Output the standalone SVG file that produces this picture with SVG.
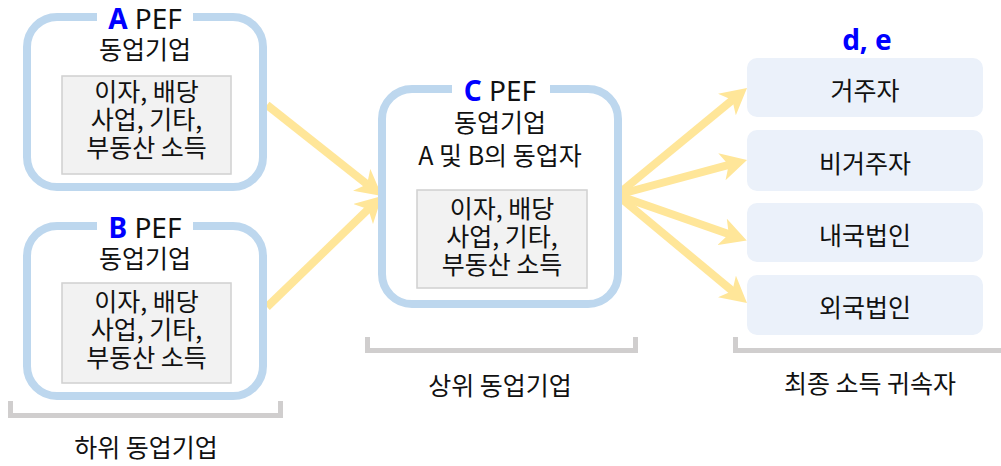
<svg xmlns="http://www.w3.org/2000/svg" width="1001" height="466" viewBox="0 0 1001 466">
<style>
.frame{fill:#ffffff;stroke:#bdd7ee;stroke-width:8}
.inner{fill:#f2f2f2;stroke:#d0d0d0;stroke-width:1.5}
.gap{fill:#ffffff}
.k{font-family:"Noto Sans CJK KR","Noto Sans",sans-serif;font-size:25px;fill:#111;text-anchor:middle}
.title{font-family:"Noto Sans","Noto Sans CJK KR",sans-serif;font-size:28px;fill:#111;text-anchor:middle}
.blue{fill:#0000ff;font-weight:bold}
.dest{fill:#ebf1fa}
.arrow{stroke:#ffe699;stroke-width:8;fill:none;marker-end:url(#ah)}
.brk{fill:none;stroke:#d0cece;stroke-width:5}
</style>
<defs>
<marker id="ah" markerUnits="userSpaceOnUse" markerWidth="26" markerHeight="28" viewBox="0 0 26 28" refX="12" refY="14" orient="auto">
<path d="M0,0 L26,14 L0,28 L7,14 Z" fill="#ffe699"/>
</marker>
</defs>

<g id="connectors">
<line class="arrow" x1="267" y1="105" x2="371" y2="187.3"/>
<line class="arrow" x1="267" y1="307" x2="371.9" y2="205.7"/>
<line class="arrow" x1="617" y1="195" x2="736.2" y2="96.9"/>
<line class="arrow" x1="617" y1="195" x2="733.5" y2="163.6"/>
<line class="arrow" x1="617" y1="195" x2="733.5" y2="235.8"/>
<line class="arrow" x1="617" y1="195" x2="736.2" y2="294.1"/>
</g>

<g id="nodeA">
<rect class="frame" x="27" y="17" width="236" height="170" rx="30"/>
<rect class="gap" x="97" y="8" width="96" height="18"/>
<text class="title" x="145" y="29"><tspan class="blue">A</tspan> PEF</text>
<text class="k" x="145" y="59">동업기업</text>
<rect class="inner" x="62" y="76" width="169" height="98"/>
<text class="k" x="146.5" y="101">이자, 배당<tspan x="146.5" dy="28">사업, 기타,</tspan><tspan x="146.5" dy="28">부동산 소득</tspan></text>
</g>

<g id="nodeB">
<rect class="frame" x="27" y="226" width="236" height="170" rx="30"/>
<rect class="gap" x="97" y="217" width="96" height="18"/>
<text class="title" x="145" y="238"><tspan class="blue">B</tspan> PEF</text>
<text class="k" x="145" y="268">동업기업</text>
<rect class="inner" x="62" y="283" width="169" height="100"/>
<text class="k" x="146.5" y="311">이자, 배당<tspan x="146.5" dy="28">사업, 기타,</tspan><tspan x="146.5" dy="28">부동산 소득</tspan></text>
</g>

<g id="groupLower">
<path class="brk" d="M10.5,401 V415.5 H280.5 V401"/>
<text class="k" x="146" y="457">하위 동업기업</text>
</g>

<g id="nodeC">
<rect class="frame" x="382" y="89" width="236" height="215" rx="30"/>
<rect class="gap" x="452" y="80" width="98" height="18"/>
<text class="title" x="500" y="101"><tspan class="blue">C</tspan> PEF</text>
<text class="k" x="500" y="132">동업기업<tspan x="500" dy="33">A 및 B의 동업자</tspan></text>
<rect class="inner" x="417" y="190" width="170" height="98"/>
<text class="k" x="502" y="218">이자, 배당<tspan x="502" dy="28">사업, 기타,</tspan><tspan x="502" dy="28">부동산 소득</tspan></text>
</g>

<g id="groupUpper">
<path class="brk" d="M367.5,337 V350.5 H635.5 V337"/>
<text class="k" x="500" y="395">상위 동업기업</text>
</g>

<g id="destLabel">
<text class="title blue" x="867" y="50">d, e</text>
</g>
<g id="dest1">
<rect class="dest" x="747" y="58" width="236" height="59" rx="10"/>
<text class="k" x="865" y="100">거주자</text>
</g>
<g id="dest2">
<rect class="dest" x="747" y="130" width="236" height="61" rx="10"/>
<text class="k" x="865" y="173">비거주자</text>
</g>
<g id="dest3">
<rect class="dest" x="747" y="203" width="236" height="59" rx="10"/>
<text class="k" x="865" y="245">내국법인</text>
</g>
<g id="dest4">
<rect class="dest" x="747" y="275" width="236" height="60" rx="10"/>
<text class="k" x="865" y="317">외국법인</text>
</g>

<g id="groupFinal">
<path class="brk" d="M735.5,337 V350.5 H1003"/>
<text class="k" x="870" y="393">최종 소득 귀속자</text>
</g>
</svg>
